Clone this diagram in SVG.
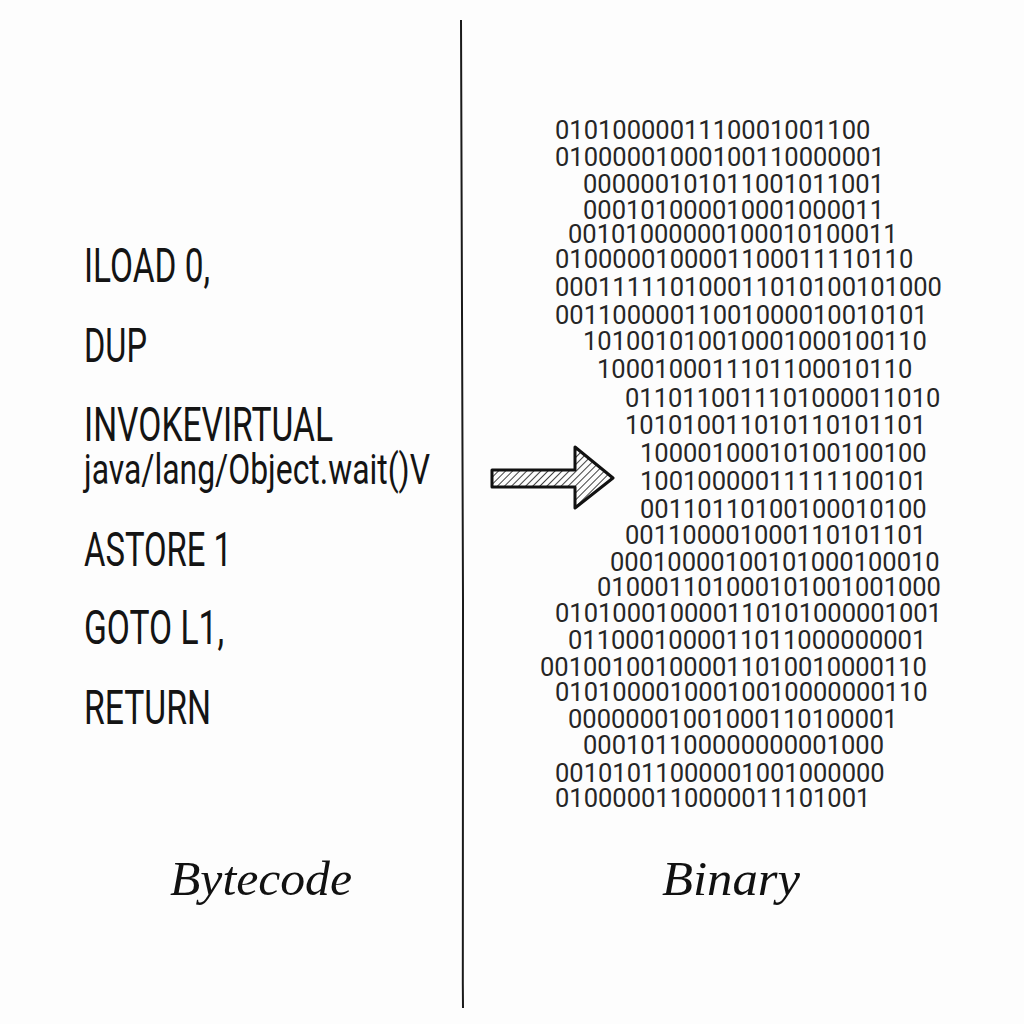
<svg xmlns="http://www.w3.org/2000/svg" width="1024" height="1024" viewBox="0 0 1024 1024">
<defs>
<style>
.code{font-family:Roboto,"Liberation Sans",sans-serif;font-size:48px;fill:#141414}
.code2{font-family:Roboto,"Liberation Sans",sans-serif;font-size:42px;fill:#141414}
.bin{font-family:Roboto,"Liberation Sans",sans-serif;font-size:25.5px;fill:#262626}
.lbl{font-family:"Liberation Serif","DejaVu Serif",serif;font-style:italic;font-size:48px;fill:#111}
</style>
<pattern id="hatch" patternUnits="userSpaceOnUse" width="5" height="5" patternTransform="rotate(45)">
<line x1="0" y1="0" x2="0" y2="5" stroke="#111" stroke-width="1.6"/>
</pattern>
</defs>
<rect width="1024" height="1024" fill="#fdfdfd"/>
<g id="divider">
<path d="M461 20 C462 200 461 400 463 600 C464 800 462 900 463 1008" fill="none" stroke="#1a1a1a" stroke-width="2"/>
</g>
<g id="bytecode">
<text class="code" x="84" y="282" textLength="126" lengthAdjust="spacingAndGlyphs">ILOAD 0,</text>
<text class="code" x="84" y="362" textLength="63" lengthAdjust="spacingAndGlyphs">DUP</text>
<text class="code" x="84" y="441" textLength="249" lengthAdjust="spacingAndGlyphs">INVOKEVIRTUAL</text>
<text class="code2" x="84" y="484" textLength="346" lengthAdjust="spacingAndGlyphs">java/lang/Object.wait()V</text>
<text class="code" x="84" y="566" textLength="148" lengthAdjust="spacingAndGlyphs">ASTORE 1</text>
<text class="code" x="84" y="644" textLength="140" lengthAdjust="spacingAndGlyphs">GOTO L1,</text>
<text class="code" x="84" y="724" textLength="127" lengthAdjust="spacingAndGlyphs">RETURN</text>
</g>
<g id="binary">
<text class="bin" x="555" y="139">0101000001110001001100</text>
<text class="bin" x="555" y="166">01000001000100110000001</text>
<text class="bin" x="583" y="193">000000101011001011001</text>
<text class="bin" x="583" y="219">000101000010001000011</text>
<text class="bin" x="568" y="243">00101000000100010100011</text>
<text class="bin" x="555" y="268">0100000100001100011110110</text>
<text class="bin" x="555" y="296">000111110100011010100101000</text>
<text class="bin" x="555" y="324">00110000011001000010010101</text>
<text class="bin" x="583" y="350">101001010010001000100110</text>
<text class="bin" x="597" y="378">1000100011101100010110</text>
<text class="bin" x="625" y="407">0110110011101000011010</text>
<text class="bin" x="625" y="434">101010011010110101101</text>
<text class="bin" x="640" y="462">10000100010100100100</text>
<text class="bin" x="640" y="490">10010000011111100101</text>
<text class="bin" x="640" y="518">00110110100100010100</text>
<text class="bin" x="625" y="544">001100001000110101101</text>
<text class="bin" x="610" y="571">00010000100101000100010</text>
<text class="bin" x="597" y="596">010001101000101001001000</text>
<text class="bin" x="555" y="622">010100010000110101000001001</text>
<text class="bin" x="568" y="649">0110001000011011000000001</text>
<text class="bin" x="540" y="676">001001001000011010010000110</text>
<text class="bin" x="555" y="701">01010000100010010000000110</text>
<text class="bin" x="568" y="728">00000001001000110100001</text>
<text class="bin" x="583" y="754">000101100000000001000</text>
<text class="bin" x="555" y="782">00101011000001001000000</text>
<text class="bin" x="555" y="807">0100000110000011101001</text>
</g>
<g id="connectors">
<path d="M492 470 L575 470 L575 447 L613 478 L575 508 L575 487 L492 487 Z" fill="url(#hatch)" stroke="#111" stroke-width="3" stroke-linejoin="round"/>
</g>
<g id="labels">
<text class="lbl" x="170" y="895" textLength="182" lengthAdjust="spacingAndGlyphs">Bytecode</text>
<text class="lbl" x="662" y="895" textLength="138" lengthAdjust="spacingAndGlyphs">Binary</text>
</g>
</svg>
